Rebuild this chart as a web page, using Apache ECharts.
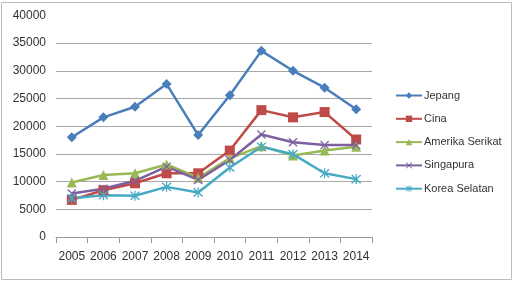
<!DOCTYPE html>
<html>
<head>
<meta charset="utf-8">
<script src="https://cdn.jsdelivr.net/npm/echarts@6/dist/echarts.min.js"></script>
<style>
  html, body { margin: 0; padding: 0; background: #fff; }
  #chart { width: 514px; height: 283px; }
</style>
</head>
<body>
<div id="chart"></div>
<script>
const years = ['2005', '2006', '2007', '2008', '2009', '2010', '2011', '2012', '2013', '2014'];
const jepang = [18000, 21600, 23500, 27600, 18400, 25600, 33600, 30000, 26950, 23050];
const cina = [6700, 8450, 9700, 11500, 11500, 15600, 22900, 21600, 22550, 17600];
const amerika = [9850, 11200, 11500, 13100, 10700, 14200, 16400, 14700, 15600, 16300];
const singapura = [7850, 8700, 10150, 12700, 10300, 13900, 18500, 17100, 16600, 16600];
const korea = [7000, 7550, 7450, 9050, 8050, 12550, 16300, 14950, 11500, 10450];

const X_PATH = 'path://M0,1 L1,0 L5,4 L9,0 L10,1 L6,5 L10,9 L9,10 L5,6 L1,10 L0,9 L4,5 Z';
const STAR_PATH = 'path://M0,1 L1,0 L5,4 L9,0 L10,1 L6,5 L10,9 L9,10 L5,6 L1,10 L0,9 L4,5 Z M4.4,-0.5 L5.6,-0.5 L5.6,10.5 L4.4,10.5 Z';

const font = 'Liberation Sans';

function line(name, data, color, symbol, size) {
  return {
    name: name,
    type: 'line',
    data: data,
    symbol: symbol,
    symbolSize: size,
    lineStyle: { color: color, width: 2.5 },
    itemStyle: { color: color },
    animation: false
  };
}

const chart = echarts.init(document.getElementById('chart'));
chart.setOption({
  backgroundColor: '#fff',
  graphic: [{
    type: 'rect',
    shape: { x: 1.5, y: 2.5, width: 510, height: 277 },
    style: { fill: 'none', stroke: '#bdbdbd', lineWidth: 1 },
    silent: true
  }],
  grid: { left: 56, right: 142, top: 15.4, bottom: 46 },
  legend: {
    orient: 'vertical',
    left: 390,
    top: 85,
    itemWidth: 26,
    itemHeight: 8,
    itemGap: 12.3,
    textStyle: { fontFamily: font, fontSize: 11, color: '#333', padding: [0, 0, 0, -3] },
    data: ['Jepang', 'Cina', 'Amerika Serikat', 'Singapura', 'Korea Selatan']
  },
  xAxis: {
    type: 'category',
    data: years,
    boundaryGap: true,
    axisLine: { lineStyle: { color: '#9a9a9a', width: 1 } },
    axisTick: { show: true, length: 6, lineStyle: { color: '#9a9a9a' } },
    axisLabel: { interval: 0, fontFamily: font, fontSize: 12, color: '#333', margin: 14 }
  },
  yAxis: {
    type: 'value',
    min: 0,
    max: 40000,
    interval: 5000,
    axisLine: { show: false },
    axisTick: { show: false },
    axisLabel: { fontFamily: font, fontSize: 12, color: '#333', margin: 10, formatter: v => String(v) },
    splitLine: { show: true, showMaxLine: false, lineStyle: { color: '#a8a8a8', width: 1 } }
  },
  series: [
    line('Jepang', jepang, '#4A7EBB', 'diamond', 10),
    line('Cina', cina, '#BE4B48', 'rect', 10),
    line('Amerika Serikat', amerika, '#98B954', 'triangle', 10),
    line('Singapura', singapura, '#7D60A0', X_PATH, 9),
    line('Korea Selatan', korea, '#46AAC5', STAR_PATH, 10)
  ]
});
</script>
</body>
</html>
